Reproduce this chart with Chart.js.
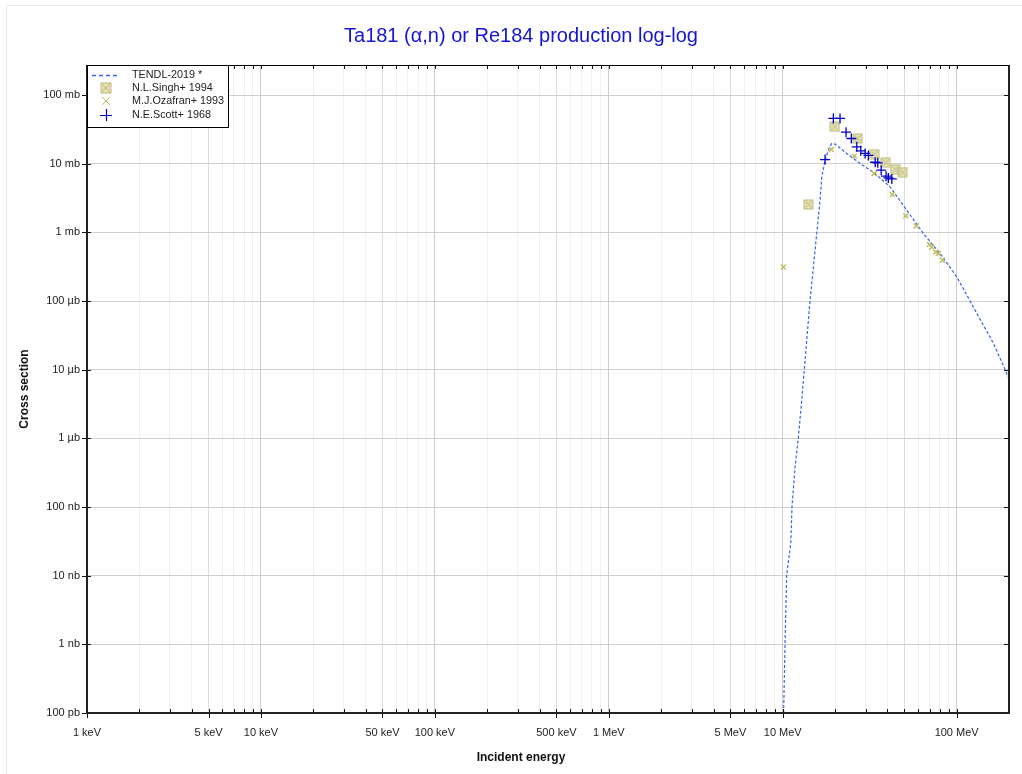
<!DOCTYPE html>
<html lang="en">
<head>
<meta charset="UTF-8">
<title>Ta181 (α,n) or Re184 production log-log</title>
<script src="https://cdn.jsdelivr.net/npm/chart.js"></script>
<style>
  body { margin: 0; background: #fff; }
  #wrap { width: 1022px; height: 774px; }
</style>
</head>
<body>
<div id="wrap"><canvas id="chart" width="1022" height="774"></canvas></div>
<script>
// TENDL-2019 evaluated curve (energy in eV, cross section in barns)
const tendlE = [1.012e7, 1.031e7, 1.054e7, 1.112e7, 1.131e7, 1.177e7, 1.230e7, 1.286e7, 1.331e7,
  1.436e7, 1.534e7, 1.569e7, 1.639e7, 1.677e7, 1.752e7, 1.830e7, 1.914e7, 2.0e7, 2.335e7,
  2.785e7, 3.397e7, 4.143e7, 5.17e7, 6.44e7, 8.04e7, 1.003e8, 1.307e8, 1.628e8, 1.986e8, 2.0e8];
const tendlXS = [1.0e-10, 1.02e-9, 1.03e-8, 2.92e-8, 1.01e-7, 3.79e-7, 1.03e-6, 3.56e-6, 1.01e-5,
  1.02e-4, 5.48e-4, 9.7e-4, 2.94e-3, 6.43e-3, 1.13e-2, 1.58e-2, 1.97e-2, 1.93e-2, 1.41e-2,
  1.01e-2, 7.21e-3, 4.6e-3, 2.10e-3, 9.6e-4, 4.91e-4, 2.24e-4, 6.6e-5, 2.42e-5, 7.78e-6, 7.3e-6];

// N.L.Singh+ 1994
const singhE = [1.404e7, 1.992e7, 2.70e7, 3.35e7, 3.91e7, 4.43e7, 4.90e7];
const singhXS = [2.55e-3, 3.45e-2, 2.33e-2, 1.38e-2, 1.04e-2, 8.33e-3, 7.53e-3];

// M.J.Ozafran+ 1993
const ozafranE = [1.008e7, 1.904e7, 2.58e7, 3.35e7, 4.27e7, 5.10e7, 5.85e7, 6.97e7, 7.20e7, 7.59e7, 7.86e7, 8.29e7];
const ozafranXS = [3.13e-4, 1.61e-2, 1.29e-2, 7.21e-3, 3.56e-3, 1.74e-3, 1.24e-3, 6.64e-4, 6.12e-4, 5.18e-4, 4.91e-4, 3.92e-4];

// N.E.Scott+ 1968
const scottE = [1.752e7, 1.955e7, 2.136e7, 2.313e7, 2.48e7, 2.667e7, 2.81e7, 2.976e7, 3.108e7,
  3.40e7, 3.52e7, 3.68e7, 3.93e7, 4.05e7, 4.24e7];
const scottXS = [1.15e-2, 4.57e-2, 4.57e-2, 2.88e-2, 2.33e-2, 1.76e-2, 1.54e-2, 1.41e-2, 1.32e-2,
  1.05e-2, 1.03e-2, 8.05e-3, 6.59e-3, 6.22e-3, 6.01e-3];

// axis ticks
const xLabelValues = [1e3, 5e3, 1e4, 5e4, 1e5, 5e5, 1e6, 5e6, 1e7, 1e8];
const xLabels = ['1 keV', '5 keV', '10 keV', '50 keV', '100 keV', '500 keV', '1 MeV', '5 MeV', '10 MeV', '100 MeV'];
const yTickValues = [1e-10, 1e-9, 1e-8, 1e-7, 1e-6, 1e-5, 1e-4, 1e-3, 1e-2, 1e-1];
const yLabels = ['100 pb', '1 nb', '10 nb', '100 nb', '1 µb', '10 µb', '100 µb', '1 mb', '10 mb', '100 mb'];

const xMin = 1e3, xMax = 2e8, yMin = 1e-10, yMax = 0.274;

// every 1..9 x 10^k between the x limits
const xTickValues = [];
for (let p = 3; p <= 8; p++) {
  for (let m = 1; m <= 9; m++) {
    const v = m * Math.pow(10, p);
    if (v >= xMin * 0.999 && v <= xMax * 1.001) xTickValues.push(v);
  }
}

function near(a, b) { return Math.abs(a - b) / b < 1e-6; }
function xLabelFor(v) {
  const i = xLabelValues.findIndex(t => near(v, t));
  return i >= 0 ? xLabels[i] : '';
}
function mant(v) { return Math.round(v / Math.pow(10, Math.floor(Math.log10(v) + 1e-9))); }

const FONT = '"Liberation Sans", Arial, sans-serif';
const tendlColor = 'rgb(55,100,235)';
const singhStroke = 'rgb(190,185,115)';
const singhFill = 'rgba(218,214,160,0.75)';
const ozafranColor = 'rgb(190,186,95)';
const scottColor = 'rgb(0,0,200)';

function drawSinghMark(ctx, x, y, s) {
  ctx.save();
  ctx.fillStyle = singhFill;
  ctx.strokeStyle = singhStroke;
  ctx.lineWidth = 1;
  ctx.fillRect(x - s, y - s, 2 * s, 2 * s);
  ctx.strokeRect(x - s, y - s, 2 * s, 2 * s);
  ctx.beginPath();
  ctx.moveTo(x - s + 1.5, y - s + 1.5); ctx.lineTo(x + s - 1.5, y + s - 1.5);
  ctx.moveTo(x + s - 1.5, y - s + 1.5); ctx.lineTo(x - s + 1.5, y + s - 1.5);
  ctx.stroke();
  ctx.restore();
}
function makeSinghImage(s) {
  const c = document.createElement('canvas');
  c.width = 2 * s + 2; c.height = 2 * s + 2;
  drawSinghMark(c.getContext('2d'), s + 1, s + 1, s);
  return c;
}
const singhImg = makeSinghImage(4.5);

function pairs(xs, ys) { return xs.map((x, i) => ({ x: x, y: ys[i] })); }

const frame = {
  id: 'frame',
  beforeDraw(chart) {
    const ctx = chart.ctx;
    ctx.save();
    ctx.fillStyle = '#fff';
    ctx.fillRect(0, 0, chart.width, chart.height);
    ctx.strokeStyle = '#e8e8e8';
    ctx.lineWidth = 1;
    ctx.beginPath();
    ctx.moveTo(6.5, 774); ctx.lineTo(6.5, 5.5); ctx.lineTo(1022, 5.5);
    ctx.stroke();
    ctx.restore();
  },
  afterDraw(chart) {
    const ctx = chart.ctx;
    const a = chart.chartArea;
    const xs = chart.scales.x, ys = chart.scales.y;
    ctx.save();
    // ticks
    ctx.strokeStyle = '#111';
    ctx.lineWidth = 1;
    ctx.beginPath();
    xTickValues.forEach(v => {
      const px = Math.round(xs.getPixelForValue(v)) + 0.5;
      const major = xLabelFor(v) !== '';
      ctx.moveTo(px, a.bottom + (major ? 5 : 0)); ctx.lineTo(px, a.bottom - 4);
      ctx.moveTo(px, a.top); ctx.lineTo(px, a.top + 4);
    });
    yTickValues.forEach(v => {
      const py = Math.round(ys.getPixelForValue(v)) + 0.5;
      ctx.moveTo(a.left - 5, py); ctx.lineTo(a.left + 4, py);
      ctx.moveTo(a.right - 5, py); ctx.lineTo(a.right, py);
    });
    ctx.stroke();
    // frame
    ctx.strokeStyle = '#000';
    ctx.lineWidth = 1;
    ctx.beginPath();
    ctx.moveTo(a.left, a.top + 0.5); ctx.lineTo(a.right, a.top + 0.5);
    ctx.stroke();
    ctx.strokeStyle = '#222';
    ctx.lineWidth = 2;
    ctx.beginPath();
    ctx.moveTo(a.left, a.top); ctx.lineTo(a.left, a.bottom);
    ctx.lineTo(a.right, a.bottom); ctx.lineTo(a.right, a.top);
    ctx.stroke();

    // title
    ctx.fillStyle = 'rgb(20,20,210)';
    ctx.font = '20px ' + FONT;
    ctx.textAlign = 'center';
    ctx.textBaseline = 'middle';
    ctx.fillText('Ta181 (α,n) or Re184 production log-log', 521, 36);
    // axis titles
    ctx.fillStyle = '#111';
    ctx.font = 'bold 12px ' + FONT;
    ctx.fillText('Incident energy', 521, 758);
    ctx.save();
    ctx.translate(25, 389);
    ctx.rotate(-Math.PI / 2);
    ctx.fillText('Cross section', 0, 0);
    ctx.restore();

    // legend
    const lx = a.left, ly = a.top, lw = 141, lh = 62;
    ctx.fillStyle = '#fff';
    ctx.fillRect(lx, ly, lw, lh);
    ctx.strokeStyle = '#000';
    ctx.lineWidth = 1;
    ctx.strokeRect(lx + 0.5, ly + 0.5, lw, lh);
    ctx.font = '10.8px ' + FONT;
    ctx.textAlign = 'left';
    ctx.textBaseline = 'middle';
    const rows = [75, 88, 101, 115];
    chart.data.datasets.forEach((ds, i) => {
      const ry = rows[i];
      const mx = 106;
      if (i === 0) {
        ctx.save();
        ctx.strokeStyle = tendlColor;
        ctx.lineWidth = 1.5;
        ctx.setLineDash([4, 3]);
        ctx.beginPath();
        ctx.moveTo(92, ry + 0.5); ctx.lineTo(120, ry + 0.5);
        ctx.stroke();
        ctx.restore();
      } else if (i === 1) {
        drawSinghMark(ctx, mx, ry, 5);
      } else if (i === 2) {
        ctx.save();
        ctx.strokeStyle = ozafranColor;
        ctx.beginPath();
        ctx.moveTo(mx - 4, ry - 4); ctx.lineTo(mx + 4, ry + 4);
        ctx.moveTo(mx + 4, ry - 4); ctx.lineTo(mx - 4, ry + 4);
        ctx.stroke();
        ctx.restore();
      } else {
        ctx.save();
        ctx.strokeStyle = scottColor;
        ctx.lineWidth = 1.2;
        ctx.beginPath();
        ctx.moveTo(mx - 6, ry + 0.5); ctx.lineTo(mx + 6, ry + 0.5);
        ctx.moveTo(mx + 0.5, ry - 6); ctx.lineTo(mx + 0.5, ry + 6);
        ctx.stroke();
        ctx.restore();
      }
      ctx.fillStyle = '#222';
      ctx.fillText(ds.label, 132, ry);
    });
    ctx.restore();
  }
};

new Chart(document.getElementById('chart').getContext('2d'), {
  type: 'scatter',
  data: {
    datasets: [
      {
        label: 'TENDL-2019 *',
        data: pairs(tendlE, tendlXS),
        showLine: true,
        borderColor: tendlColor,
        borderWidth: 1.2,
        borderDash: [3, 2],
        pointRadius: 0,
        order: 4
      },
      {
        label: 'N.L.Singh+ 1994',
        data: pairs(singhE, singhXS),
        pointStyle: singhImg,
        pointRadius: 5,
        order: 3
      },
      {
        label: 'M.J.Ozafran+ 1993',
        data: pairs(ozafranE, ozafranXS),
        pointStyle: 'crossRot',
        pointRadius: 3.5,
        borderColor: ozafranColor,
        borderWidth: 1.4,
        order: 2
      },
      {
        label: 'N.E.Scott+ 1968',
        data: pairs(scottE, scottXS),
        pointStyle: 'cross',
        pointRadius: 5,
        borderColor: scottColor,
        borderWidth: 1.3,
        order: 1
      }
    ]
  },
  options: {
    responsive: false,
    animation: false,
    devicePixelRatio: 1,
    layout: { padding: { left: 0, right: 12, top: 65, bottom: 0 } },
    plugins: { legend: { display: false }, title: { display: false }, tooltip: { enabled: false } },
    scales: {
      x: {
        type: 'logarithmic',
        min: xMin,
        max: xMax,
        afterBuildTicks: s => { s.ticks = xTickValues.map(v => ({ value: v })); },
        afterFit: s => { s.height = 61; },
        grid: {
          drawTicks: false,
          color: c => {
            const m = mant(c.tick.value);
            if (m === 1) return '#cccccc';
            if (m === 5) return '#dcdcdc';
            return '#efefef';
          }
        },
        border: { display: false },
        ticks: {
          autoSkip: false,
          maxRotation: 0,
          padding: 13,
          color: '#222',
          font: { family: FONT, size: 11 },
          callback: v => xLabelFor(v)
        }
      },
      y: {
        type: 'logarithmic',
        min: yMin,
        max: yMax,
        afterBuildTicks: s => { s.ticks = yTickValues.map(v => ({ value: v })); },
        afterFit: s => { s.width = 87; },
        grid: { drawTicks: false, color: '#d0d0d0' },
        border: { display: false },
        ticks: {
          autoSkip: false,
          padding: 7,
          color: '#222',
          font: { family: FONT, size: 11 },
          callback: v => {
            const i = yTickValues.findIndex(t => near(v, t));
            return i >= 0 ? yLabels[i] : '';
          }
        }
      }
    }
  },
  plugins: [frame]
});
</script>
</body>
</html>
